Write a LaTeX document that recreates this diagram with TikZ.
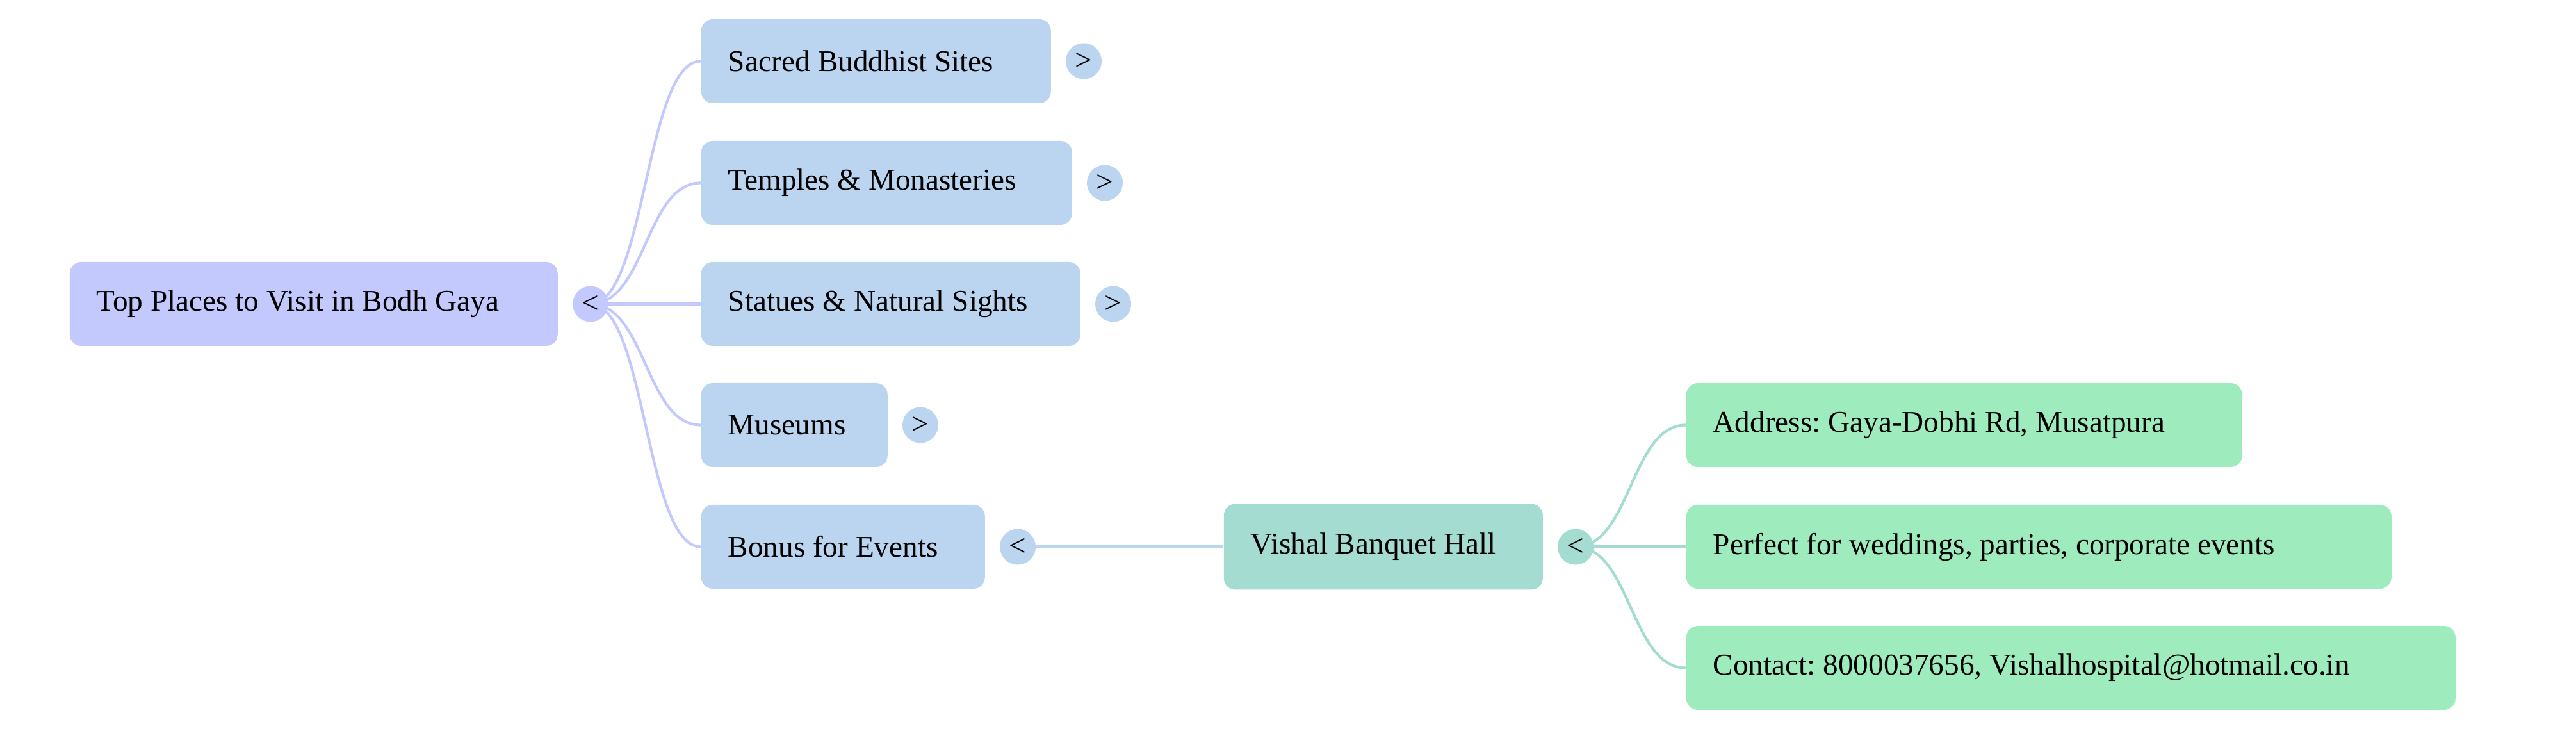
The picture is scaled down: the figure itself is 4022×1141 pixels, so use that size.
\documentclass[tikz,border=0pt]{standalone}
\usepackage{fontspec}
\setmainfont{Liberation Serif}
\frenchspacing
\definecolor{rootc}{HTML}{C4C9FD}
\definecolor{lvone}{HTML}{BBD5F0}
\definecolor{vishc}{HTML}{A4DCD2}
\definecolor{lvthree}{HTML}{9EEBBE}
\begin{document}
\begin{tikzpicture}[x=0.25pt,y=-0.25pt,
  box/.style={rounded corners=4.5pt, inner xsep=10.5pt, inner ysep=0pt, minimum height=32.75pt,
    align=flush left, anchor=west, font=\fontsize{11.8}{14}\selectfont\frenchspacing},
  tog/.style={circle, inner sep=0pt, minimum size=14pt, font=\fontsize{11.8}{14}\selectfont},
  link/.style={line width=1.05pt}]
\useasboundingbox (0,0) rectangle (4022,1141);
% root
\node[box, fill=rootc, text width=169.5pt] (root) at (108,474.5) {Top Places to Visit in Bodh Gaya};
% level one
\node[box, fill=lvone, text width=115.5pt] (n1) at (1094,95.5) {Sacred Buddhist Sites};
\node[box, fill=lvone, text width=123.75pt] (n2) at (1094,285.5) {Temples \& Monasteries};
\node[box, fill=lvone, text width=127pt] (n3) at (1094,474.5) {Statues \& Natural Sights};
\node[box, fill=lvone, text width=51.75pt] (n4) at (1094,663.5) {Museums};
\node[box, fill=lvone, text width=89.75pt] (n5) at (1094,853.5) {Bonus for Events};
% vishal
\node[box, fill=vishc, text width=103.5pt, minimum height=33.5pt] (v) at (1910,853.5) {Vishal Banquet Hall};
% level three
\node[box, fill=lvthree, text width=196pt] (a) at (2632,663.5) {Address: Gaya-Dobhi Rd, Musatpura};
\node[box, fill=lvthree, text width=254.25pt] (p) at (2632,853.5) {Perfect for weddings, parties, corporate events};
\node[box, fill=lvthree, text width=279.25pt] (c) at (2632,1042.5) {Contact: 8000037656, Vishalhospital@hotmail.co.in};
% toggle anchors (centres)
\coordinate (c0) at (922,474.5);
\coordinate (c5) at (1589,853.5);
\coordinate (cv) at (2460,853.5);
% links
\foreach \n in {n1,n2,n3,n4,n5}
  \draw[link, rootc] (c0) .. controls +(86,0) and +(-86,0) .. (\n.west);
\draw[line width=1.2pt, lvone] (c5) -- (v.west);
\foreach \n in {a,p,c}
  \draw[link, vishc] (cv) .. controls +(86,0) and +(-86,0) .. (\n.west);
% toggles
\node[tog, fill=rootc] (t0) at (c0) {<};
\node[tog, fill=lvone] (t1) at (1692,95.5) {>};
\node[tog, fill=lvone] (t2) at (1725,285.5) {>};
\node[tog, fill=lvone] (t3) at (1738,474.5) {>};
\node[tog, fill=lvone] (t4) at (1437,663.5) {>};
\node[tog, fill=lvone] (t5) at (c5) {<};
\node[tog, fill=vishc] (tv) at (cv) {<};
\end{tikzpicture}
\end{document}
